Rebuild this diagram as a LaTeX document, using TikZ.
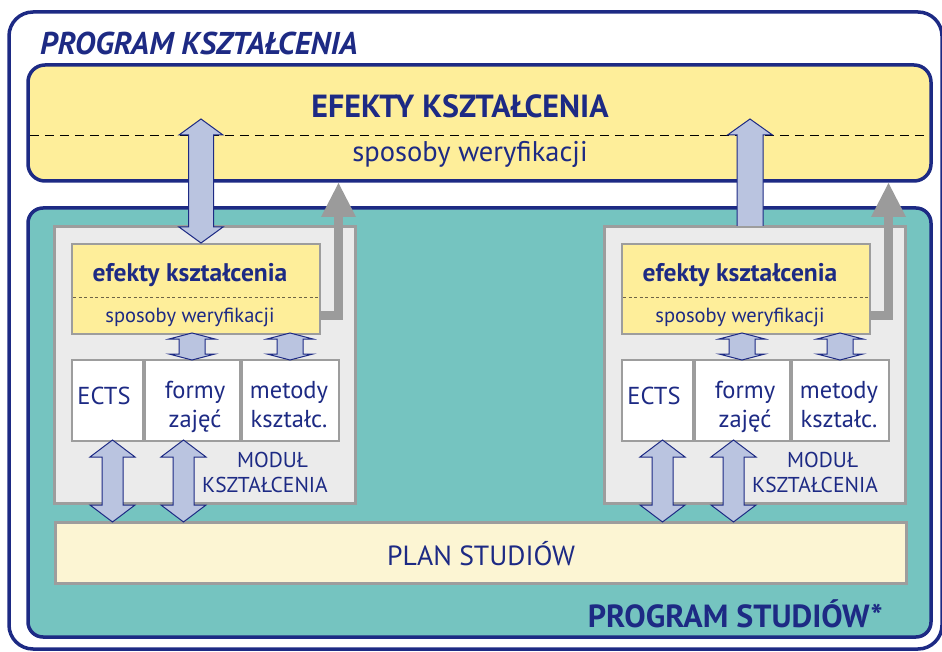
\documentclass[tikz,border=0pt]{standalone}
\usepackage{fontspec}
\setmainfont{PT Sans}
\usetikzlibrary{calc}
\definecolor{navy}{RGB}{29,42,132}
\definecolor{lemon}{RGB}{254,238,154}
\definecolor{teal2}{RGB}{117,196,192}
\definecolor{modfill}{RGB}{235,235,235}
\definecolor{modline}{RGB}{157,157,157}
\definecolor{cream}{RGB}{252,245,211}
\definecolor{arrblue}{RGB}{186,196,224}
\definecolor{arrgray}{RGB}{155,155,155}
\definecolor{dashcol}{RGB}{110,100,70}

% vertical double block arrow: x, top tip, bottom tip, shaft hw, head hw, head length
\newcommand\vdblarrow[6]{%
  \fill[arrblue] (#1-#4,#2+#6) -- (#1-#5,#2+#6) -- (#1,#2) -- (#1+#5,#2+#6) -- (#1+#4,#2+#6)
    -- (#1+#4,#3-#6) -- (#1+#5,#3-#6) -- (#1,#3) -- (#1-#5,#3-#6) -- (#1-#4,#3-#6) -- cycle;
  \draw[navy,line width=1pt,line join=miter] (#1-#4,#2+#6) -- (#1-#5,#2+#6) -- (#1,#2) -- (#1+#5,#2+#6) -- (#1+#4,#2+#6)
    -- (#1+#4,#3-#6) -- (#1+#5,#3-#6) -- (#1,#3) -- (#1-#5,#3-#6) -- (#1-#4,#3-#6) -- cycle;}

% upward single block arrow: x, tip, shaft bottom, shaft hw, head hw, head length
\newcommand\vuparrow[6]{%
  \filldraw[fill=arrblue,draw=navy,line width=1pt] (#1-#4,#3) -- (#1-#4,#2+#6) -- (#1-#5,#2+#6) -- (#1,#2)
    -- (#1+#5,#2+#6) -- (#1+#4,#2+#6) -- (#1+#4,#3);}

% one module of the study programme, shifted by #1
\newcommand\module[2]{%
  \begin{scope}[xshift=#1pt]
    \node[modbox, minimum width=301, minimum height=276] (mod#2) at (204.5,365) {};
    \node[innerbox, fill=lemon, minimum width=248, minimum height=90] (eff#2) at (196,289) {};
    \draw[dashcol, dashed, dash pattern=on 3pt off 2.5pt, line width=0.8pt] (73,297) -- (319,297);
    \node[small bold] (efft#2) at (190,281) {efekty kształcenia};
    \node[small] (ver#2) at (190,323) {sposoby weryfikacji};
    \node[innerbox, fill=white, minimum width=71, minimum height=81] (ects#2) at (107.5,400.5) {};
    \node[innerbox, fill=white, minimum width=95, minimum height=81] (form#2) at (192.5,400.5) {};
    \node[innerbox, fill=white, minimum width=97, minimum height=81] (met#2) at (290.5,400.5) {};
    \node[cell] at (104,404) {ECTS};
    \node[cell] at (195,398) {formy};
    \node[cell] at (195,427) {zajęć};
    \node[cell] at (289,398) {metody};
    \node[cell] at (289,427) {kształc.};
    \node[label2, anchor=base west] at (237,467) {MODUŁ};
    \node[label2, anchor=base west] at (202,492) {KSZTAŁCENIA};
    % links between the outcomes and the module parts
    \vdblarrow{192}{333}{360}{13}{23}{6}
    \vdblarrow{290}{333}{360}{13}{23}{6}
    % links between the module and the study plan
    \vdblarrow{112.5}{440}{522}{10.5}{22.5}{17}
    \vdblarrow{183.5}{440}{522}{10.5}{22.5}{17}
    % verification feedback up to the programme outcomes
    \draw[arrgray, line width=9pt, line join=miter] (320,315) -- (338.5,315) -- (338.5,216);
    \fill[arrgray] (321,217) -- (338.5,183) -- (356,217) -- cycle;
  \end{scope}}

\tikzset{
  modbox/.style={draw=modline, fill=modfill, line width=3pt, inner sep=0pt, outer sep=0pt},
  innerbox/.style={draw=modline, line width=2pt, inner sep=0pt, outer sep=0pt},
  small/.style={text=navy, font=\fontsize{20.5}{20.5}\selectfont, anchor=base, inner sep=0pt},
  small bold/.style={text=navy, font=\fontsize{25.5}{25.5}\selectfont\bfseries, anchor=base, inner sep=0pt},
  cell/.style={text=navy, font=\fontsize{24.5}{24.5}\selectfont, anchor=base, inner sep=0pt},
  label2/.style={text=navy, font=\fontsize{21.5}{21.5}\selectfont, inner sep=0pt},
}

\begin{document}
\begin{tikzpicture}[x=1pt,y=-1pt]
\useasboundingbox (0,0) rectangle (942,652);

% whole programme frame
\draw[navy, line width=3.5pt, rounded corners=24pt] (9,12) rectangle (942,649);
\node[text=navy, font=\fontsize{31.5}{31.5}\selectfont\bfseries\itshape, anchor=base west, inner sep=0pt]
  (prog) at (40,55) {PROGRAM KSZTAŁCENIA};

% programme learning outcomes
\draw[navy, fill=lemon, line width=3.5pt, rounded corners=17pt] (28,65) rectangle (931,181);
\draw[black, dashed, dash pattern=on 9pt off 6pt, line width=0.8pt] (30,135) -- (929,135);
\node[text=navy, font=\fontsize{32}{32}\selectfont\bfseries, anchor=base, inner sep=0pt]
  (eff) at (460,118) {EFEKTY KSZTAŁCENIA};
\node[text=navy, font=\fontsize{28.5}{28.5}\selectfont, anchor=base, inner sep=0pt]
  (ver) at (470,162) {sposoby weryfikacji};

% study programme
\draw[navy, fill=teal2, line width=3.5pt, rounded corners=15pt] (28,208) rectangle (931,637);
\node[draw=modline, fill=cream, line width=3pt, minimum width=851, minimum height=61, inner sep=0pt]
  (plan) at (480.5,552.5) {};
\node[text=navy, font=\fontsize{27.7}{27.7}\selectfont, anchor=base, inner sep=0pt] at (481,565) {PLAN STUDIÓW};
\node[text=navy, font=\fontsize{32}{32}\selectfont\bfseries, anchor=base east, inner sep=0pt]
  (ps) at (883,627) {PROGRAM STUDIÓW*};

\module{0}{A}
\module{550}{B}

% links between the programme outcomes and each module
\vdblarrow{201}{119}{243}{12.5}{22}{16}
\vuparrow{750}{119}{226}{13}{22.5}{16}

\end{tikzpicture}
\end{document}
